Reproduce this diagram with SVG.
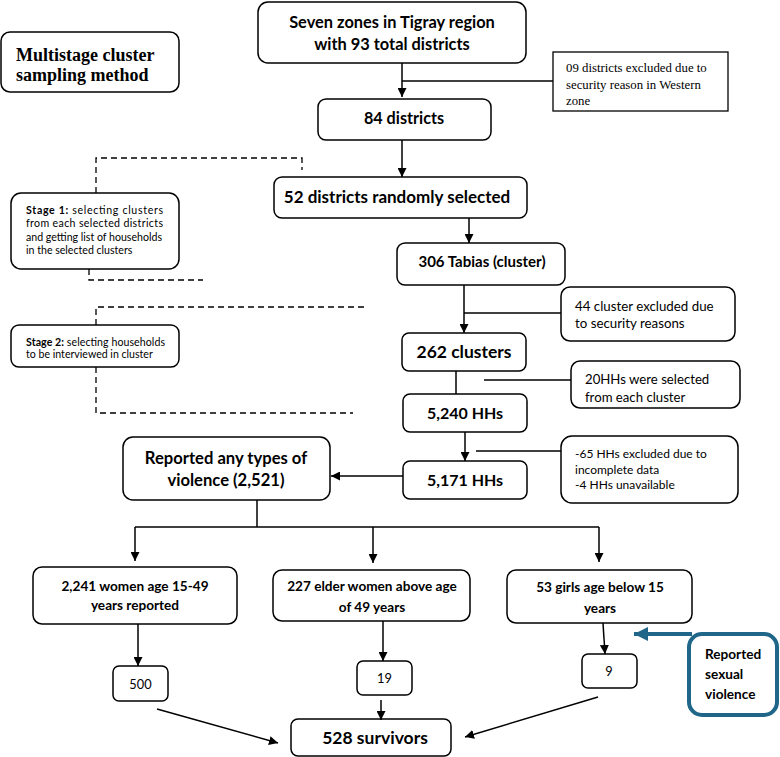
<svg xmlns="http://www.w3.org/2000/svg" width="780" height="757" viewBox="0 0 780 757">
<defs>
<style>
.box{fill:#fff;stroke:#000;stroke-width:1.5}
.sq{fill:#fff;stroke:#000;stroke-width:1.3}
.ln{fill:none;stroke:#000;stroke-width:1.5}
.dash{fill:none;stroke:#000;stroke-width:1.3;stroke-dasharray:6 4}
.b{font-family:Lato,"Liberation Sans",sans-serif;font-weight:bold;fill:#000;text-anchor:middle}
.r{font-family:Lato,"Liberation Sans",sans-serif;fill:#000}
.s{font-family:"Liberation Serif",serif;fill:#000}
.sm{font-family:Lato,"Liberation Sans",sans-serif;font-size:10.6px;fill:#000}
</style>
<marker id="ah" viewBox="0 0 10 10" refX="10" refY="5" markerWidth="9" markerHeight="9" markerUnits="userSpaceOnUse" orient="auto">
<path d="M0,0 L10,5 L0,10 z" fill="#000"/>
</marker>
<marker id="bh" viewBox="0 0 10 10" refX="10" refY="5" markerWidth="14" markerHeight="14" markerUnits="userSpaceOnUse" orient="auto">
<path d="M0,0 L10,5 L0,10 z" fill="#1f6688"/>
</marker>
</defs>

<g id="multistage">
<rect class="box" x="1" y="32" width="178" height="60" rx="9"/>
<text class="s" font-weight="bold" font-size="18" x="16" y="61">Multistage cluster</text>
<text class="s" font-weight="bold" font-size="18" x="16" y="81">sampling method</text>
</g>

<g id="stage1">
<rect class="box" x="11" y="193" width="168" height="76" rx="10"/>
<text class="sm" x="26" y="213.5" textLength="137" lengthAdjust="spacing"><tspan font-weight="bold">Stage 1:</tspan> selecting clusters</text>
<text class="sm" x="26" y="227" textLength="137" lengthAdjust="spacing">from each selected districts</text>
<text class="sm" x="26" y="240.5">and getting list of households</text>
<text class="sm" x="26" y="254">in the selected clusters</text>
</g>

<g id="stage2">
<rect class="box" x="11" y="325" width="168" height="42" rx="8"/>
<text class="sm" x="26" y="345.5" textLength="139" lengthAdjust="spacing"><tspan font-weight="bold">Stage 2:</tspan> selecting households</text>
<text class="sm" x="26" y="358">to be interviewed in cluster</text>
</g>

<g id="zones">
<rect class="box" x="258" y="2" width="268" height="61" rx="10"/>
<text class="b" font-size="16.4" x="392" y="28">Seven zones in Tigray region</text>
<text class="b" font-size="16.4" x="392" y="50">with 93 total districts</text>
</g>

<g id="excl09">
<rect class="sq" x="553" y="52" width="175" height="59"/>
<text class="s" font-size="12.8" x="566" y="72">09 districts excluded due to</text>
<text class="s" font-size="12.8" x="566" y="89">security reason in Western</text>
<text class="s" font-size="12.8" x="566" y="105">zone</text>
</g>

<g id="d84">
<rect class="box" x="318" y="99" width="173" height="41" rx="8"/>
<text class="b" font-size="16.2" x="404" y="124">84 districts</text>
</g>

<g id="d52">
<rect class="box" x="274" y="177" width="253" height="41" rx="8"/>
<text class="b" font-size="17" x="397" y="203">52 districts randomly selected</text>
</g>

<g id="tabias">
<rect class="box" x="397" y="243" width="168" height="42" rx="8"/>
<text class="b" font-size="15" x="482" y="267">306 Tabias (cluster)</text>
</g>

<g id="excl44">
<rect class="box" x="561" y="287" width="174" height="54" rx="9"/>
<text class="r" font-size="13.3" x="575" y="311">44 cluster excluded due</text>
<text class="r" font-size="13.3" x="575" y="328">to security reasons</text>
</g>

<g id="c262">
<rect class="box" x="402" y="333" width="124" height="38" rx="7"/>
<text class="b" font-size="17.5" x="464" y="358">262 clusters</text>
</g>

<g id="hh20">
<rect class="box" x="571" y="361" width="169" height="47" rx="9"/>
<text class="r" font-size="13.2" x="585" y="384">20HHs were selected</text>
<text class="r" font-size="13.2" x="585" y="402">from each cluster</text>
</g>

<g id="hh5240">
<rect class="box" x="403" y="394" width="124" height="38" rx="7"/>
<text class="b" font-size="16" x="465" y="419">5,240 HHs</text>
</g>

<g id="excl65">
<rect class="box" x="561" y="436" width="177" height="67" rx="11"/>
<text class="r" font-size="12" x="575" y="457.5">-65 HHs excluded due to</text>
<text class="r" font-size="12" x="575" y="473.5">incomplete data</text>
<text class="r" font-size="12" x="575" y="488.5">-4 HHs unavailable</text>
</g>

<g id="hh5171">
<rect class="box" x="403" y="461" width="124" height="38" rx="7"/>
<text class="b" font-size="16" x="465" y="486">5,171 HHs</text>
</g>

<g id="violence">
<rect class="box" x="123" y="437" width="207" height="63" rx="10"/>
<text class="b" font-size="16.6" x="226" y="464">Reported any types of</text>
<text class="b" font-size="16.6" x="226" y="486">violence (2,521)</text>
</g>

<g id="women">
<rect class="box" x="33" y="567" width="204" height="57" rx="9"/>
<text class="b" font-size="13.6" x="135" y="591">2,241 women age 15-49</text>
<text class="b" font-size="13.6" x="135" y="610">years reported</text>
</g>

<g id="elder">
<rect class="box" x="273" y="570" width="197" height="51" rx="9"/>
<text class="b" font-size="13.6" x="372" y="591">227 elder women above age</text>
<text class="b" font-size="13.6" x="372" y="612">of 49 years</text>
</g>

<g id="girls">
<rect class="box" x="507" y="570" width="185" height="53" rx="9"/>
<text class="b" font-size="13.6" x="600" y="592">53 girls age below 15</text>
<text class="b" font-size="13.6" x="600" y="613">years</text>
</g>

<g id="n500">
<rect class="box" x="113" y="666" width="55" height="35" rx="6"/>
<text class="r" font-size="12.8" text-anchor="middle" x="140.5" y="688.5">500</text>
</g>

<g id="n19">
<rect class="box" x="357" y="661" width="55" height="34" rx="6"/>
<text class="r" font-size="12.8" text-anchor="middle" x="384.5" y="682.5">19</text>
</g>

<g id="n9">
<rect class="box" x="582" y="654" width="55" height="34" rx="6"/>
<text class="r" font-size="12.8" text-anchor="middle" x="609" y="675.5">9</text>
</g>

<g id="survivors">
<rect class="box" x="291" y="719" width="160" height="37" rx="7"/>
<text class="b" font-size="17.5" x="375" y="744">528 survivors</text>
</g>

<g id="sexual">
<rect x="689" y="634" width="88" height="81" rx="13" fill="#fff" stroke="#1f6688" stroke-width="4"/>
<text class="r" font-weight="bold" font-size="13.6" x="705" y="659">Reported</text>
<text class="r" font-weight="bold" font-size="13.6" x="705" y="679">sexual</text>
<text class="r" font-weight="bold" font-size="13.6" x="705" y="699">violence</text>
</g>

<g id="connectors">
<path class="ln" d="M402,63 V97" marker-end="url(#ah)"/>
<path class="ln" d="M402,81 H553"/>
<path class="ln" d="M402,140 V177" marker-end="url(#ah)"/>
<path class="ln" d="M469,218 V243" marker-end="url(#ah)"/>
<path class="ln" d="M464,285 V333" marker-end="url(#ah)"/>
<path class="ln" d="M464,313 H561"/>
<path class="ln" d="M456,371 V394"/>
<path class="ln" d="M484,380 H571"/>
<path class="ln" d="M465,432 V461" marker-end="url(#ah)"/>
<path class="ln" d="M476,451 H561"/>
<path class="ln" d="M403,476 H331" marker-end="url(#ah)"/>
<path class="ln" d="M257,500 V527"/>
<path class="ln" d="M135,527 H599"/>
<path class="ln" d="M135,527 V561" marker-end="url(#ah)"/>
<path class="ln" d="M373,527 V563" marker-end="url(#ah)"/>
<path class="ln" d="M599,527 V562" marker-end="url(#ah)"/>
<path class="ln" d="M138,624 V666" marker-end="url(#ah)"/>
<path class="ln" d="M383,621 V661" marker-end="url(#ah)"/>
<path class="ln" d="M381,700 V720" marker-end="url(#ah)"/>
<path class="ln" d="M157,709 L278,743" marker-end="url(#ah)"/>
<path class="ln" d="M603,623 L605,654" marker-end="url(#ah)"/>
<path class="ln" d="M598,697 L465,737" marker-end="url(#ah)"/>
<path fill="none" stroke="#1f6688" stroke-width="4" d="M692,634 H634" marker-end="url(#bh)"/>
<path class="dash" d="M96,193 V158 H302 V170"/>
<path class="dash" d="M89,269 V280 H203"/>
<path class="dash" d="M96,325 V307 H368"/>
<path class="dash" d="M96,367 V413 H353"/>
</g>
</svg>
